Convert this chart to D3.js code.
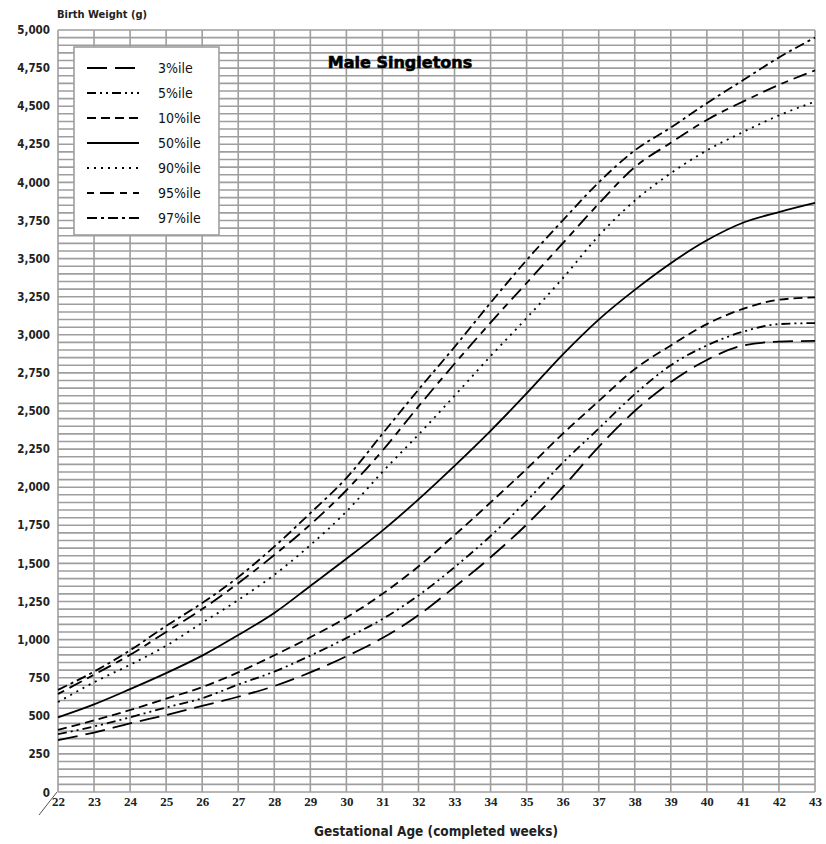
<!DOCTYPE html>
<html>
<head>
<meta charset="utf-8">
<script src="https://cdn.jsdelivr.net/npm/d3@7"></script>
<style>
  body { margin: 0; background: #fff; }
  text { font-family: "Liberation Sans Narrow", "DejaVu Sans Condensed", "Liberation Sans", sans-serif; }
</style>
</head>
<body>
<script>
var weeks = [22, 23, 24, 25, 26, 27, 28, 29, 30, 31, 32, 33, 34, 35, 36, 37, 38, 39, 40, 41, 42, 43];

var p3  = [341, 390, 450, 505, 565, 625, 695, 785, 890, 1010, 1160, 1345, 1540, 1755, 2000, 2265, 2500, 2690, 2835, 2930, 2955, 2960];
var p5  = [380, 430, 490, 555, 615, 705, 790, 895, 1010, 1135, 1290, 1475, 1680, 1910, 2160, 2385, 2610, 2800, 2930, 3020, 3070, 3077];
var p10 = [407, 470, 538, 612, 688, 785, 897, 1015, 1145, 1300, 1480, 1685, 1900, 2120, 2350, 2565, 2775, 2930, 3070, 3170, 3230, 3245];
var p50 = [490, 575, 675, 780, 895, 1030, 1175, 1352, 1530, 1715, 1920, 2140, 2370, 2615, 2870, 3100, 3295, 3470, 3620, 3735, 3805, 3865];
var p90 = [590, 720, 835, 960, 1110, 1260, 1425, 1620, 1840, 2100, 2345, 2600, 2860, 3110, 3370, 3650, 3880, 4060, 4210, 4330, 4440, 4530];
var p95 = [643, 770, 900, 1050, 1200, 1370, 1555, 1755, 1980, 2240, 2530, 2810, 3080, 3340, 3600, 3860, 4100, 4260, 4410, 4530, 4640, 4735];
var p97 = [670, 790, 930, 1090, 1240, 1410, 1610, 1830, 2060, 2350, 2640, 2920, 3210, 3490, 3750, 4000, 4210, 4360, 4520, 4670, 4820, 4950];

var seriesNames = ["3%ile", "5%ile", "10%ile", "50%ile", "90%ile", "95%ile", "97%ile"];
var seriesValues = [p3, p5, p10, p50, p90, p95, p97];
var dashes = ["20,8", "9,4,2,4,2,4", "9,5", null, "2,5", "7,6,14,6", "10,4,3,4"];

var yTicks = d3.range(0, 5001, 250);

var svg = d3.select("body").append("svg").attr("width", 826).attr("height", 844);

var x = d3.scaleLinear().domain([22, 43]).range([58, 815]);
var y = d3.scaleLinear().domain([0, 5000]).range([792, 30]);

// grid
var grid = svg.append("g").attr("stroke", "#9e9e9e").attr("stroke-width", 1.6);
grid.selectAll("line.h")
      .data(d3.range(0, 5001, 50))
      .enter().append("line")
      .attr("class", "h")
      .attr("x1", x(22)).attr("x2", x(43))
      .attr("y1", function (d) { return y(d); })
      .attr("y2", function (d) { return y(d); });
grid.selectAll("line.v")
      .data(weeks)
      .enter().append("line")
      .attr("class", "v")
      .attr("y1", y(0)).attr("y2", y(5000))
      .attr("x1", function (d) { return x(d); })
      .attr("x2", function (d) { return x(d); });

// axes
var yAxis = svg.append("g").attr("transform", "translate(50,0)")
      .call(d3.axisLeft(y).tickValues(yTicks.slice(1)).tickFormat(d3.format(",")).tickSize(0).tickPadding(0));
yAxis.select(".domain").remove();
yAxis.selectAll("text").attr("font-size", 11.5).attr("font-weight", "bold").attr("fill", "#222")
      .style("font-family", "'Liberation Sans Narrow', 'DejaVu Sans Condensed', sans-serif");

var xAxis = svg.append("g").attr("transform", "translate(0,797)")
      .call(d3.axisBottom(x).tickValues(weeks).tickFormat(d3.format("d")).tickSize(0).tickPadding(0));
xAxis.select(".domain").remove();
xAxis.selectAll("text").attr("font-size", 13).attr("font-weight", "bold").attr("fill", "#222")
      .style("font-family", "'Liberation Serif', serif");

// zero label and axis break
svg.append("text").attr("x", 50).attr("y", 797).attr("text-anchor", "end")
      .attr("font-size", 11.5).attr("font-weight", "bold").attr("fill", "#222").text("0");
svg.append("line").attr("x1", 39).attr("y1", 815).attr("x2", 57).attr("y2", 792)
      .attr("stroke", "#555").attr("stroke-width", 1);

// titles
svg.append("text").attr("x", 57).attr("y", 18).attr("font-size", 11).attr("font-weight", "bold")
      .attr("fill", "#222").text("Birth Weight (g)");
svg.append("text").attr("x", 436).attr("y", 836).attr("text-anchor", "middle")
      .attr("font-size", 13.5).attr("font-weight", "bold").attr("fill", "#222")
      .style("font-family", "'DejaVu Sans Condensed', sans-serif")
      .text("Gestational Age (completed weeks)");
svg.append("text").attr("x", 400).attr("y", 68).attr("text-anchor", "middle")
      .attr("font-size", 16).attr("font-weight", "bold").attr("fill", "#000")
      .attr("stroke", "#000").attr("stroke-width", 0.6)
      .style("font-family", "'DejaVu Sans', sans-serif")
      .text("Male Singletons");

// curves
var line = d3.line()
      .x(function (d, i) { return x(weeks[i]); })
      .y(function (d) { return y(d); })
      .curve(d3.curveMonotoneX);

svg.selectAll("path.curve")
      .data(seriesValues)
      .enter().append("path")
      .attr("class", "curve")
      .attr("d", line)
      .attr("fill", "none")
      .attr("stroke", "#000")
      .attr("stroke-width", 1.8)
      .attr("stroke-dasharray", function (d, i) { return dashes[i]; });

// legend
var legend = svg.append("g");
legend.append("rect").attr("x", 74).attr("y", 47).attr("width", 145).attr("height", 188)
      .attr("fill", "#fff").attr("stroke", "#9e9e9e").attr("stroke-width", 1.6);
legend.selectAll("line")
      .data(seriesNames)
      .enter().append("line")
      .attr("x1", 87).attr("x2", 139)
      .attr("y1", function (d, i) { return 68 + i * 25; })
      .attr("y2", function (d, i) { return 68 + i * 25; })
      .attr("stroke", "#000").attr("stroke-width", 1.8)
      .attr("stroke-dasharray", function (d, i) { return dashes[i]; });
legend.selectAll("text")
      .data(seriesNames)
      .enter().append("text")
      .attr("x", 158)
      .attr("y", function (d, i) { return 73 + i * 25; })
      .attr("font-size", 14)
      .attr("fill", "#111")
      .style("font-family", "'Liberation Sans Narrow', 'DejaVu Sans Condensed', sans-serif")
      .text(function (d) { return d; });
</script>
</body>
</html>
